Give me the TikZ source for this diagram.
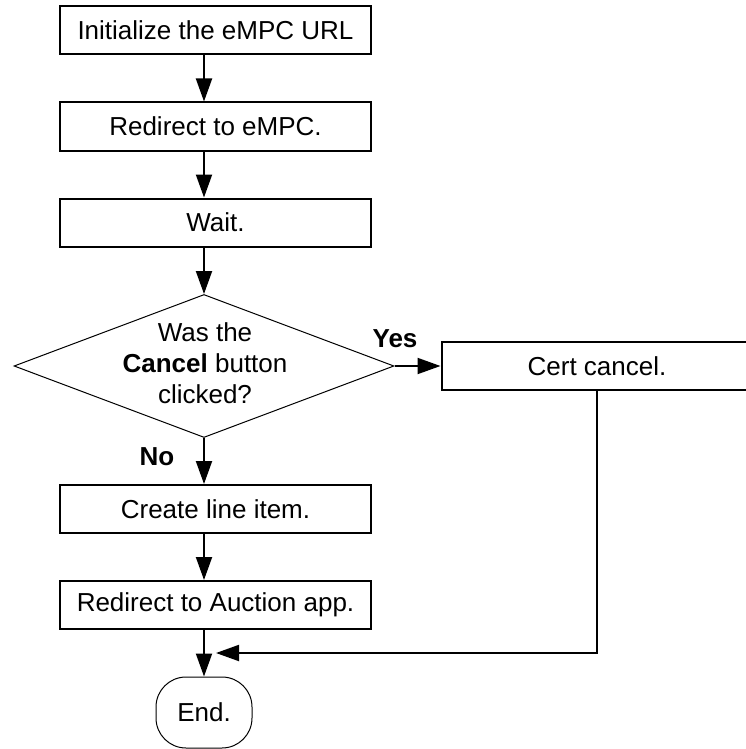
\documentclass[tikz,border=0pt]{standalone}
\usepackage{fontspec}
\setmainfont{Liberation Sans}
\usetikzlibrary{shapes.geometric,arrows.meta,calc}
\begin{document}
\begin{tikzpicture}[x=1pt,y=-1pt,
  every node/.style={font=\fontsize{26}{31}\selectfont},
  stepbox/.style={draw, line width=2pt, minimum width=311pt, minimum height=48pt, inner sep=0pt},
  decision/.style={draw, diamond, line width=1pt, minimum width=380pt, minimum height=143pt, inner sep=0pt},
  terminal/.style={draw, line width=1pt, rounded corners=30pt, minimum width=96pt, minimum height=71pt, inner sep=0pt},
  arr/.style={line width=2pt, -{Triangle[length=23pt,width=16pt]}},
  lbl/.style={font=\fontsize{26}{31}\selectfont\bfseries, inner sep=0pt}]
\useasboundingbox (0,0) rectangle (746,749);
\node[stepbox] (b1) at (215.5,30.5) {Initialize the eMPC URL};
\node[stepbox] (b2) at (215.5,126.5) {Redirect to eMPC.};
\node[stepbox] (b3) at (215.5,222.5) {Wait.};
\node[decision] (d) at (204,366) {};
\node[align=center, inner sep=0pt] (dt) at (205,363.5) {Was the\\\textbf{Cancel} button\\clicked?};
\node[stepbox] (cc) at (597,366) {Cert cancel.};
\node[stepbox] (cl) at (215.5,509) {Create line item.};
\node[stepbox] (ra) at (215.5,605) {Redirect to Auction app.};
\node[terminal] (e) at (204,712.5) {End.};
\node[lbl] (yes) at (395,339) {Yes};
\node[lbl] (no) at (157,457) {No};
\coordinate (jn) at (216,653);
\draw[arr] (b1.south -| d.north) -- (b2.north -| d.north);
\draw[arr] (b2.south -| d.north) -- (b3.north -| d.north);
\draw[arr] (b3.south -| d.north) -- (d.north);
\draw[arr] (d.east) -- (cc.west);
\draw[arr] (d.south) -- (cl.north -| d.south);
\draw[arr] (cl.south -| d.south) -- (ra.north -| d.south);
\draw[arr] (ra.south -| e.north) -- (e.north);
\draw[arr] (cc.south) |- (jn);
\end{tikzpicture}
\end{document}
